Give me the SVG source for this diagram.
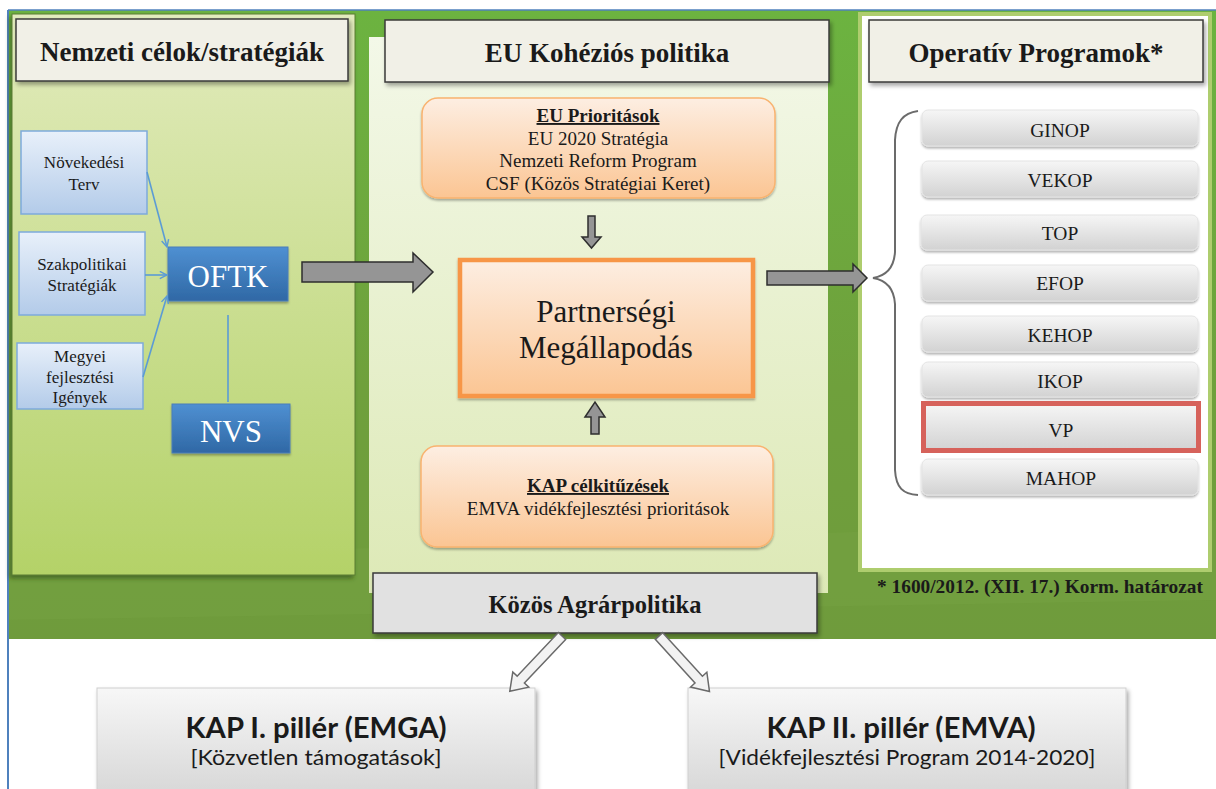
<svg xmlns="http://www.w3.org/2000/svg" width="1216" height="789" viewBox="0 0 1216 789">
<defs>
  <linearGradient id="gBg" x1="0" y1="0" x2="0" y2="1">
    <stop offset="0" stop-color="#6cb340"/>
    <stop offset="0.6" stop-color="#6fa03c"/>
    <stop offset="1" stop-color="#6f9b3c"/>
  </linearGradient>
  <linearGradient id="gLeft" x1="0" y1="0" x2="0" y2="1">
    <stop offset="0" stop-color="#e2ebbd"/>
    <stop offset="1" stop-color="#b4d268"/>
  </linearGradient>
  <linearGradient id="gMid" x1="0" y1="0" x2="0" y2="1">
    <stop offset="0" stop-color="#f3f8e8"/>
    <stop offset="1" stop-color="#dde9b6"/>
  </linearGradient>
  <linearGradient id="gBlueLight" x1="0" y1="0" x2="0" y2="1">
    <stop offset="0" stop-color="#e8f0fa"/>
    <stop offset="1" stop-color="#b3cbe9"/>
  </linearGradient>
  <linearGradient id="gBlue" x1="0" y1="0" x2="0" y2="1">
    <stop offset="0" stop-color="#4f90d2"/>
    <stop offset="1" stop-color="#2f68a5"/>
  </linearGradient>
  <linearGradient id="gOrange" x1="0" y1="0" x2="0" y2="1">
    <stop offset="0" stop-color="#fdeee2"/>
    <stop offset="1" stop-color="#fbc593"/>
  </linearGradient>
  <linearGradient id="gGray" x1="0" y1="0" x2="0" y2="1">
    <stop offset="0" stop-color="#f6f6f6"/>
    <stop offset="1" stop-color="#d2d2d2"/>
  </linearGradient>
  <linearGradient id="gGrayBig" x1="0" y1="0" x2="0" y2="1">
    <stop offset="0" stop-color="#f7f7f7"/>
    <stop offset="1" stop-color="#d6d6d6"/>
  </linearGradient>
  <filter id="shadow" x="-10%" y="-10%" width="120%" height="130%">
    <feDropShadow dx="2" dy="3" stdDeviation="2" flood-color="#000" flood-opacity="0.35"/>
  </filter>
  <filter id="softShadow" x="-5%" y="-20%" width="110%" height="150%">
    <feDropShadow dx="0" dy="2" stdDeviation="1.2" flood-color="#000" flood-opacity="0.3"/>
  </filter>
  <filter id="panelShadow" x="-5%" y="-5%" width="110%" height="110%">
    <feDropShadow dx="-2" dy="3" stdDeviation="2" flood-color="#2e4a18" flood-opacity="0.6"/>
  </filter>
  <marker id="blueHead" viewBox="0 0 10 10" refX="9" refY="5" markerWidth="9" markerHeight="9" markerUnits="userSpaceOnUse" orient="auto">
    <path d="M1,1 L9,5 L1,9" fill="none" stroke="#5b9bd5" stroke-width="1.6"/>
  </marker>
</defs>
<style>
  .serif{font-family:"Liberation Serif","Times New Roman",serif;fill:#1a1a1a;}
  .title{font-size:27px;font-weight:bold;text-anchor:middle;}
  .titleBox{fill:#f1f0e7;stroke:#3a3a3a;stroke-width:1.5;}
  .small{font-size:17px;text-anchor:middle;}
  .body{font-size:19px;text-anchor:middle;}
  .prog{font-size:19.5px;text-anchor:middle;}
  .progBox{fill:url(#gGray);stroke:#e4e4e4;stroke-width:1;}
  .lightBlue{fill:url(#gBlueLight);stroke:#7eaadb;stroke-width:1.5;}
  .darkBlue{fill:url(#gBlue);stroke:#4b7fb9;stroke-width:1;}
  .whiteText{font-family:"Liberation Serif","Times New Roman",serif;fill:#ffffff;text-anchor:middle;}
  .orangeBox{fill:url(#gOrange);stroke:#f9b36f;stroke-width:1.5;}
  .blockArrow{fill:#959595;stroke:#2e2e2e;stroke-width:1.5;stroke-linejoin:miter;}
  .hollowArrow{fill:#f2f2f2;stroke:#6a6a6a;stroke-width:1.5;}
  .blueLine{stroke:#5b9bd5;stroke-width:1.6;fill:none;}
  .sans{font-family:Lato,"Liberation Sans",sans-serif;fill:#1a1a1a;text-anchor:middle;}
</style>

<!-- backgrounds -->
<rect x="0" y="0" width="1216" height="789" fill="#ffffff"/>
<rect x="8" y="10" width="1208" height="629" fill="url(#gBg)"/>
<polygon points="8,560 1216,520 1216,600 8,620" fill="#7aa746" opacity="0.25"/>
<line x1="8" y1="10" x2="1216" y2="10" stroke="#4f81bd" stroke-width="1.5"/>
<line x1="8" y1="10" x2="8" y2="789" stroke="#4f81bd" stroke-width="2"/>

<!-- panels -->
<g id="panel-left">
  <rect x="12" y="14" width="343" height="561" fill="url(#gLeft)" stroke="#5a7d33" stroke-width="1" filter="url(#panelShadow)"/>
</g>
<g id="panel-middle">
  <rect x="369" y="37" width="459" height="556" fill="url(#gMid)"/>
</g>
<g id="panel-right">
  <rect x="860" y="14" width="350" height="556" fill="#ffffff" stroke="#aecd6e" stroke-width="4"/>
</g>

<!-- titles -->
<g id="title-nemzeti">
  <rect class="titleBox" x="16" y="19" width="332" height="62" filter="url(#shadow)"/>
  <text class="serif title" x="182" y="61" font-size="28">Nemzeti célok/stratégiák</text>
</g>
<g id="title-eu">
  <rect class="titleBox" x="385" y="20" width="444" height="62" filter="url(#shadow)"/>
  <text class="serif title" x="607" y="62">EU Kohéziós politika</text>
</g>
<g id="title-op">
  <rect class="titleBox" x="869" y="20" width="334" height="62" filter="url(#shadow)"/>
  <text class="serif title" x="1036" y="62">Operatív Programok*</text>
</g>

<!-- left nodes -->
<g id="node-novekedesi">
  <rect class="lightBlue" x="21" y="131" width="126" height="83"/>
  <text class="serif small" x="84" y="168">Növekedési</text>
  <text class="serif small" x="84" y="190">Terv</text>
</g>
<g id="node-szakpolitikai">
  <rect class="lightBlue" x="19" y="232" width="126" height="83"/>
  <text class="serif small" x="82" y="270">Szakpolitikai</text>
  <text class="serif small" x="82" y="291">Stratégiák</text>
</g>
<g id="node-megyei">
  <rect class="lightBlue" x="17" y="343" width="126" height="66"/>
  <text class="serif small" x="80" y="362">Megyei</text>
  <text class="serif small" x="80" y="383">fejlesztési</text>
  <text class="serif small" x="80" y="403">Igények</text>
</g>
<g id="node-oftk">
  <rect class="darkBlue" x="168" y="247" width="120" height="54" filter="url(#softShadow)"/>
  <text class="whiteText" x="228" y="287" font-size="31">OFTK</text>
</g>
<g id="node-nvs">
  <rect class="darkBlue" x="172" y="404" width="118" height="49" filter="url(#softShadow)"/>
  <text class="whiteText" x="231" y="442" font-size="31">NVS</text>
</g>

<!-- middle nodes -->
<g id="node-eu-prioritasok">
  <rect class="orangeBox" x="422" y="98" width="353" height="100" rx="16" filter="url(#softShadow)"/>
  <text class="serif body" x="598" y="122" font-weight="bold" text-decoration="underline">EU Prioritások</text>
  <text class="serif body" x="598" y="145">EU 2020 Stratégia</text>
  <text class="serif body" x="598" y="167">Nemzeti Reform Program</text>
  <text class="serif body" x="598" y="190">CSF (Közös Stratégiai Keret)</text>
</g>
<g id="node-partnersegi">
  <rect x="460" y="260" width="293" height="136" fill="url(#gOrange)" stroke="#f79646" stroke-width="4.5" filter="url(#softShadow)"/>
  <text class="serif" x="606" y="322" font-size="31" text-anchor="middle">Partnerségi</text>
  <text class="serif" x="606" y="358" font-size="31" text-anchor="middle">Megállapodás</text>
</g>
<g id="node-kap-celkituzesek">
  <rect class="orangeBox" x="421" y="446" width="352" height="101" rx="16" filter="url(#softShadow)"/>
  <text class="serif body" x="598" y="492" font-weight="bold" text-decoration="underline">KAP célkitűzések</text>
  <text class="serif body" x="598" y="515">EMVA vidékfejlesztési prioritások</text>
</g>

<!-- right program nodes -->
<g id="node-ginop">
  <rect class="progBox" x="922" y="110" width="276" height="36" rx="6" filter="url(#softShadow)"/>
  <text class="serif prog" x="1060" y="137">GINOP</text>
</g>
<g id="node-vekop">
  <rect class="progBox" x="922" y="161" width="276" height="36" rx="6" filter="url(#softShadow)"/>
  <text class="serif prog" x="1060" y="187">VEKOP</text>
</g>
<g id="node-top">
  <rect class="progBox" x="921" y="215" width="277" height="35" rx="6" filter="url(#softShadow)"/>
  <text class="serif prog" x="1060" y="240">TOP</text>
</g>
<g id="node-efop">
  <rect class="progBox" x="922" y="265" width="276" height="36" rx="6" filter="url(#softShadow)"/>
  <text class="serif prog" x="1060" y="290">EFOP</text>
</g>
<g id="node-kehop">
  <rect class="progBox" x="922" y="316" width="276" height="36" rx="6" filter="url(#softShadow)"/>
  <text class="serif prog" x="1060" y="342">KEHOP</text>
</g>
<g id="node-ikop">
  <rect class="progBox" x="922" y="362" width="276" height="35" rx="6" filter="url(#softShadow)"/>
  <text class="serif prog" x="1060" y="388">IKOP</text>
</g>
<g id="node-vp">
  <rect x="923.5" y="403.5" width="275" height="47" fill="url(#gGray)" stroke="#d6625b" stroke-width="5"/>
  <text class="serif prog" x="1061" y="437">VP</text>
</g>
<g id="node-mahop">
  <rect class="progBox" x="922" y="459" width="276" height="36" rx="6" filter="url(#softShadow)"/>
  <text class="serif prog" x="1061" y="485">MAHOP</text>
</g>

<g id="footnote">
  <text class="serif" x="1040" y="593" font-size="19" font-weight="bold" text-anchor="middle" textLength="326" lengthAdjust="spacingAndGlyphs">* 1600/2012. (XII. 17.) Korm. határozat</text>
</g>

<!-- bottom nodes -->
<g id="node-kozos">
  <rect x="373" y="573" width="444" height="60" fill="#e1e1e1" stroke="#3a3a3a" stroke-width="1.5" filter="url(#shadow)"/>
  <text class="serif" x="595" y="613" font-size="24.5" font-weight="bold" text-anchor="middle">Közös Agrárpolitika</text>
</g>
<g id="node-kap1">
  <rect x="97" y="688" width="438" height="110" fill="url(#gGrayBig)" stroke="#cfcfcf" stroke-width="1" filter="url(#shadow)"/>
  <text class="sans" x="316" y="738" font-size="28" font-weight="bold" textLength="261" lengthAdjust="spacingAndGlyphs">KAP I. pillér (EMGA)</text>
  <text class="sans" x="316" y="765" font-size="22" textLength="251" lengthAdjust="spacingAndGlyphs">[Közvetlen támogatások]</text>
</g>
<g id="node-kap2">
  <rect x="688" y="688" width="438" height="110" fill="url(#gGrayBig)" stroke="#cfcfcf" stroke-width="1" filter="url(#shadow)"/>
  <text class="sans" x="901" y="738" font-size="28" font-weight="bold" textLength="269" lengthAdjust="spacingAndGlyphs">KAP II. pillér (EMVA)</text>
  <text class="sans" x="907" y="765" font-size="22" textLength="377" lengthAdjust="spacingAndGlyphs">[Vidékfejlesztési Program 2014-2020]</text>
</g>

<!-- connectors -->
<g id="connectors">
  <line class="blueLine" x1="147" y1="172" x2="167" y2="247" marker-end="url(#blueHead)"/>
  <line class="blueLine" x1="145" y1="275" x2="167" y2="275" marker-end="url(#blueHead)"/>
  <line class="blueLine" x1="143" y1="377" x2="167" y2="296" marker-end="url(#blueHead)"/>
  <line class="blueLine" x1="228" y1="315" x2="228" y2="402"/>

  <polygon class="blockArrow" points="302,262 413,262 413,253 433,272 413,292 413,282 302,282"/>
  <polygon class="blockArrow" points="767,271 853,271 853,264 867,278 853,292 853,285 767,285"/>
  <polygon class="blockArrow" points="588,216 595,216 595,237 601,237 591.5,248 582,237 588,237"/>
  <polygon class="blockArrow" points="585,417 595,402 605,417 599,417 599,434 591,434 591,417"/>

  <path d="M918,111 C903,113 896,122 895,140 L895,252 C894,268 885,276 873,278 C885,280 894,288 895,304 L895,470 C896,488 903,494 918,495" fill="none" stroke="#6b6b6b" stroke-width="2"/>

  <polygon class="hollowArrow" transform="translate(562,636) rotate(133.4)" points="0,-5 60,-5 60,-11 76,0 60,11 60,5 0,5"/>
  <polygon class="hollowArrow" transform="translate(659,636) rotate(47.7)" points="0,-5 59,-5 59,-11 75,0 59,11 59,5 0,5"/>
</g>
</svg>
